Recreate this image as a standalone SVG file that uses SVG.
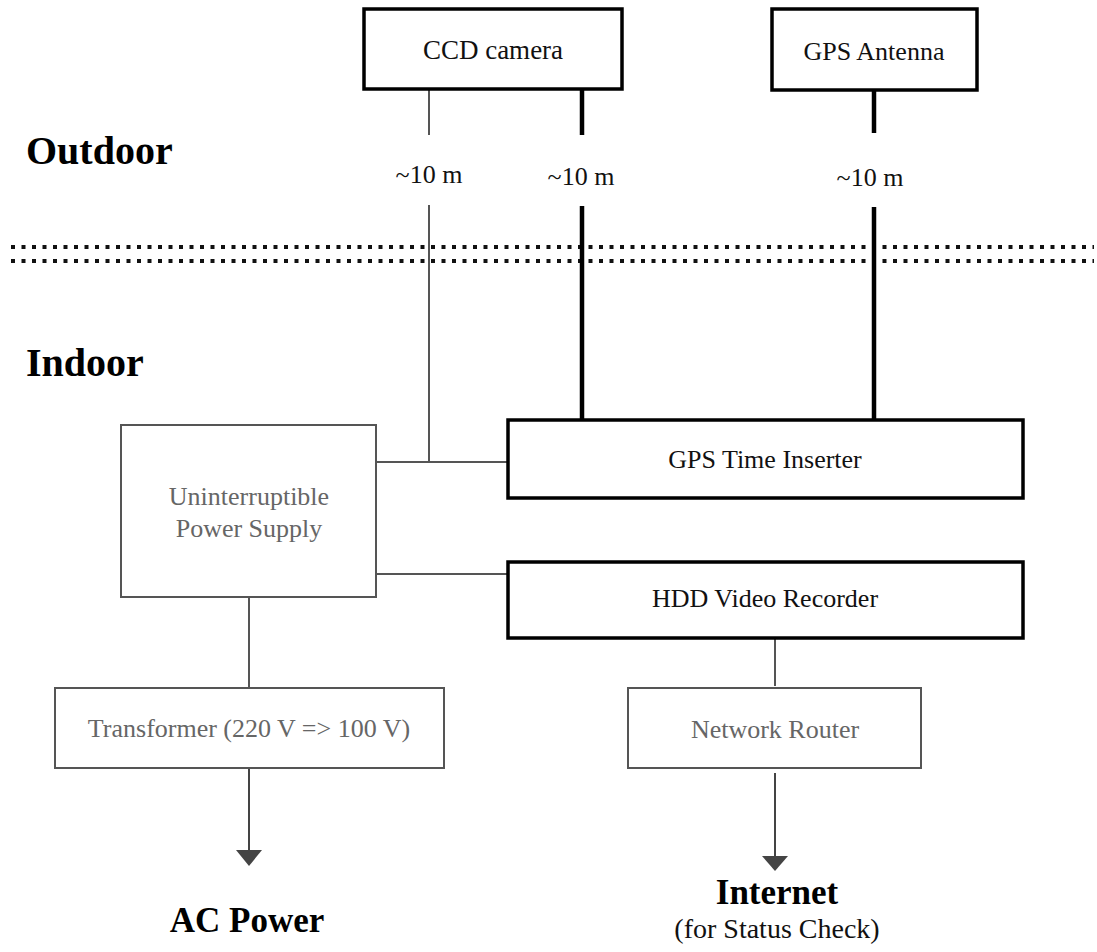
<svg xmlns="http://www.w3.org/2000/svg" width="1097" height="952" viewBox="0 0 1097 952">
  <defs>
    <style>
      text { font-family: "Liberation Serif", "Times New Roman", serif; text-anchor: middle; }
      .lbl { font-size: 26px; fill: #111; }
      .glbl { font-size: 26px; fill: #666; }
      .zone { font-size: 40px; font-weight: bold; fill: #000; text-anchor: start; }
      .sink { font-size: 35px; font-weight: bold; fill: #000; }
      .sub { font-size: 28px; fill: #111; }
      .box { fill: #fff; stroke: #000; stroke-width: 3.5; }
      .gbox { fill: #fff; stroke: #555; stroke-width: 2; }
      .thin { stroke: #555; stroke-width: 2; fill: none; }
      .thick { stroke: #000; stroke-width: 4.5; fill: none; }
      .feed { stroke: #444; stroke-width: 2; fill: none; }
      .dots { stroke: #111; stroke-width: 4; stroke-dasharray: 4 6.5; fill: none; }
      .head { fill: #444; }
    </style>
  </defs>

  <!-- zone labels and outdoor/indoor boundary -->
  <g id="zones">
    <text class="zone" x="26" y="164">Outdoor</text>
    <text class="zone" x="26" y="376">Indoor</text>
    <line class="dots" x1="11" y1="247" x2="1094" y2="247"/>
    <line class="dots" x1="11" y1="261" x2="1094" y2="261"/>
  </g>

  <!-- cables and links -->
  <g id="connectors">
    <!-- camera power (thin) -->
    <line class="thin" x1="429" y1="89" x2="429" y2="135"/>
    <line class="thin" x1="429" y1="205" x2="429" y2="462"/>
    <line class="thin" x1="376" y1="462" x2="508" y2="462"/>
    <!-- camera video (thick) -->
    <line class="thick" x1="582" y1="89" x2="582" y2="135"/>
    <line class="thick" x1="582" y1="206" x2="582" y2="420"/>
    <!-- antenna cable (thick) -->
    <line class="thick" x1="874" y1="90" x2="874" y2="133"/>
    <line class="thick" x1="874" y1="207" x2="874" y2="420"/>
    <!-- UPS to recorder -->
    <line class="thin" x1="376" y1="574" x2="508" y2="574"/>
    <!-- UPS to transformer -->
    <line class="thin" x1="249" y1="597" x2="249" y2="688"/>
    <!-- recorder to router -->
    <line class="thin" x1="775" y1="638" x2="775" y2="686"/>
    <!-- transformer to AC power -->
    <line class="feed" x1="249" y1="768" x2="249" y2="852"/>
    <polygon class="head" points="236,850 262,850 249,866"/>
    <!-- router to internet -->
    <line class="feed" x1="775" y1="773" x2="775" y2="858"/>
    <polygon class="head" points="762,856 788,856 775,871"/>
    <!-- cable length labels -->
    <text class="lbl" x="429" y="183">~10 m</text>
    <text class="lbl" x="581" y="185">~10 m</text>
    <text class="lbl" x="870" y="186">~10 m</text>
  </g>

  <g id="ccd-camera">
    <rect class="box" x="364" y="9" width="258" height="80"/>
    <text class="lbl" x="493" y="59" style="font-size:27px">CCD camera</text>
  </g>

  <g id="gps-antenna">
    <rect class="box" x="772" y="9" width="205" height="81"/>
    <text class="lbl" x="874" y="60">GPS Antenna</text>
  </g>

  <g id="ups">
    <rect class="gbox" x="121" y="425" width="255" height="172"/>
    <text class="glbl" x="249" y="505">Uninterruptible</text>
    <text class="glbl" x="249" y="537">Power Supply</text>
  </g>

  <g id="gps-time-inserter">
    <rect class="box" x="508" y="420" width="515" height="78"/>
    <text class="lbl" x="765" y="468">GPS Time Inserter</text>
  </g>

  <g id="hdd-video-recorder">
    <rect class="box" x="508" y="562" width="515" height="76"/>
    <text class="lbl" x="765" y="607">HDD Video Recorder</text>
  </g>

  <g id="transformer">
    <rect class="gbox" x="55" y="688" width="389" height="80"/>
    <text class="glbl" x="249" y="737">Transformer (220 V =&gt; 100 V)</text>
  </g>

  <g id="network-router">
    <rect class="gbox" x="628" y="688" width="293" height="80"/>
    <text class="glbl" x="775" y="738">Network Router</text>
  </g>

  <g id="ac-power">
    <text class="sink" x="247" y="932">AC Power</text>
  </g>

  <g id="internet">
    <text class="sink" x="777" y="904">Internet</text>
    <text class="sub" x="777" y="938">(for Status Check)</text>
  </g>
</svg>
